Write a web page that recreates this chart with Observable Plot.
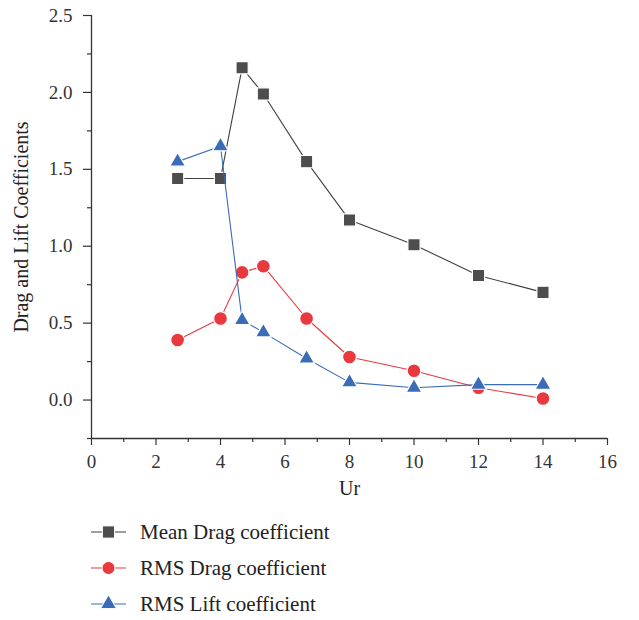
<!DOCTYPE html>
<html>
<head>
<meta charset="utf-8">
<script src="https://cdn.jsdelivr.net/npm/d3@7"></script>
<script src="https://cdn.jsdelivr.net/npm/@observablehq/plot@0.6"></script>
<style>
  html, body { margin: 0; padding: 0; background: #fff; }
  #chart { width: 639px; }
  .legend { font-family: "Liberation Serif", serif; font-size: 21px; color: #222; padding-top: 4px; }
  .legend .row { display: flex; align-items: center; height: 36px; }
  .legend svg { margin-left: 91px; margin-right: 14px; }
</style>
</head>
<body>
<div id="chart"></div>
<script>
// Data
const ur = [2.67, 4, 4.67, 5.33, 6.67, 8, 10, 12, 14];
const meanDrag = [1.44, 1.44, 2.16, 1.99, 1.55, 1.17, 1.01, 0.81, 0.70];
const rmsDrag = [0.39, 0.53, 0.83, 0.87, 0.53, 0.28, 0.19, 0.08, 0.01];
const rmsLift = [1.55, 1.65, 0.52, 0.44, 0.27, 0.115, 0.08, 0.10, 0.10];

const seriesNames = ["Mean Drag coefficient", "RMS Drag coefficient", "RMS Lift coefficient"];
const seriesColors = ["#4d4d4d", "#e8393e", "#3a6cb8"];
const lineColors = ["#404040", "#e8393e", "#3a6cb8"];
const seriesSymbols = ["square", "circle", "triangle"];
const seriesR = [6.9, 6.9, 5.9];
const seriesValues = [meanDrag, rmsDrag, rmsLift];

const xMajor = [0, 2, 4, 6, 8, 10, 12, 14, 16];
const xMinor = [1, 3, 5, 7, 9, 11, 13, 15];
const yMajor = [0, 0.5, 1.0, 1.5, 2.0, 2.5];
const yMinor = [-0.25, 0.25, 0.75, 1.25, 1.75, 2.25];
const xLabel = "Ur";
const yLabel = "Drag and Lift Coefficients";

const marks = [
  Plot.axisX(xMajor, {tickSize: 7, tickPadding: 9, tickFormat: d => String(d), label: null, strokeWidth: 1.2}),
  Plot.axisX(xMinor, {tickSize: 4, tickFormat: () => "", label: null, strokeWidth: 1.2}),
  Plot.axisY(yMajor, {tickSize: 8, tickPadding: 11, tickFormat: d3.format(".1f"), label: null, strokeWidth: 1.2}),
  Plot.axisY(yMinor, {tickSize: 4, tickFormat: () => "", label: null, strokeWidth: 1.2}),
  Plot.ruleX([0], {stroke: "#333", strokeWidth: 1.3}),
  Plot.ruleY([-0.25], {stroke: "#333", strokeWidth: 1.3}),
  Plot.text([xLabel], {frameAnchor: "bottom", dy: 56, fontSize: 20, fill: "#222"}),
  Plot.text([yLabel], {frameAnchor: "left", textAnchor: "middle", dx: -70, rotate: -90, fontSize: 20, fill: "#222"})
];

seriesValues.forEach((vals, i) => {
  const data = ur.map((u, j) => ({x: u, y: vals[j]}));
  marks.push(Plot.line(data, {x: "x", y: "y", stroke: lineColors[i], strokeWidth: 1.1}));
  marks.push(Plot.dot(data, {x: "x", y: "y", symbol: seriesSymbols[i], r: seriesR[i], fill: seriesColors[i], stroke: "white", strokeWidth: 1.2}));
});

const plot = Plot.plot({
  width: 639,
  height: 510,
  marginLeft: 91,
  marginRight: 32,
  marginTop: 15,
  marginBottom: 72,
  style: {fontFamily: "Liberation Serif, serif", fontSize: "19px", color: "#333", background: "white"},
  x: {domain: [0, 16]},
  y: {domain: [-0.25, 2.5]},
  marks
});
document.getElementById("chart").appendChild(plot);

// Legend (below the SVG)
const legend = d3.select("#chart").append("div").attr("class", "legend");
seriesNames.forEach((name, i) => {
  const row = legend.append("div").attr("class", "row");
  const svg = row.append("svg").attr("width", 35).attr("height", 36);
  svg.append("line").attr("x1", 0).attr("x2", 35).attr("y1", 18).attr("y2", 18)
    .attr("stroke", lineColors[i]).attr("stroke-width", 1.2);
  const sym = {square: d3.symbolSquare, circle: d3.symbolCircle, triangle: d3.symbolTriangle}[seriesSymbols[i]];
  const size = seriesSymbols[i] === "circle" ? Math.PI * 6.5 * 6.5 : Math.PI * seriesR[i] * seriesR[i];
  svg.append("path").attr("d", d3.symbol(sym, size)())
    .attr("transform", "translate(17.5,18)")
    .attr("fill", seriesColors[i]).attr("stroke", "white").attr("stroke-width", 1);
  row.append("span").text(name);
});
</script>
</body>
</html>
